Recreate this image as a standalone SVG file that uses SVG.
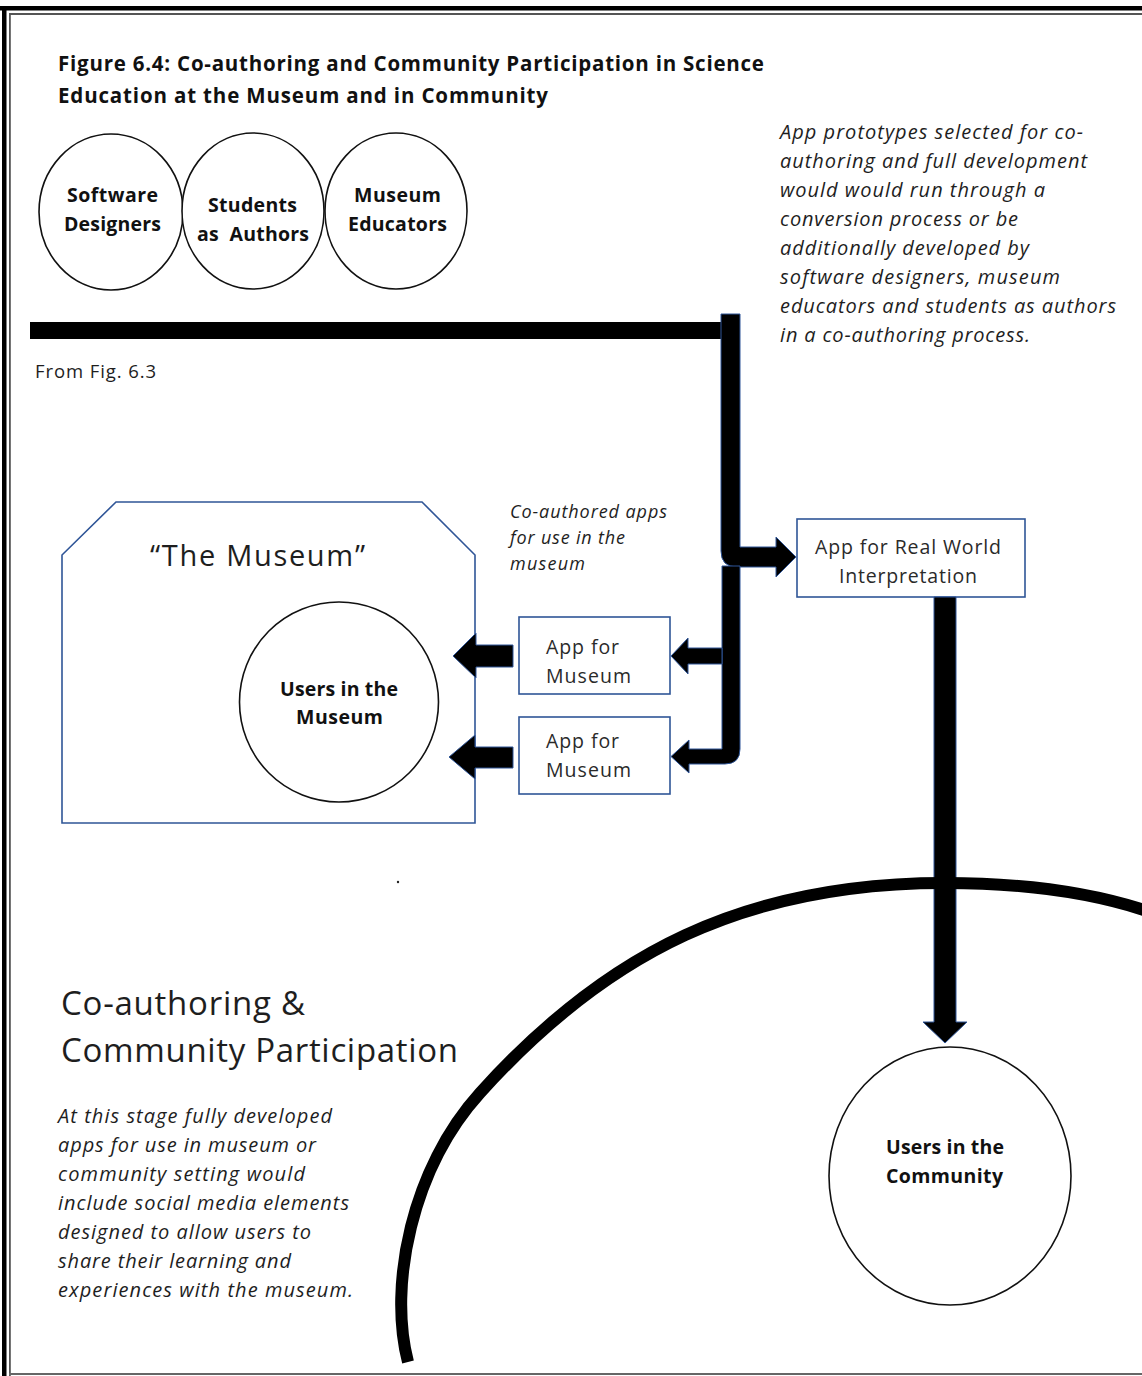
<svg xmlns="http://www.w3.org/2000/svg" width="1142" height="1376" viewBox="0 0 1142 1376">
<style>
text{font-family:"Open Sans","Noto Sans",sans-serif;fill:#1e1e1e}
.ttl{font-size:20.5px;font-weight:bold;fill:#111}
.cl{font-size:19.5px;font-weight:bold;fill:#111}
.it{font-size:20px;font-style:italic}
.app{font-size:19.5px;fill:#2a2a2a}
.ell{fill:#fff;stroke:#111;stroke-width:1.6}
.box{fill:#fff;stroke:#2F5597;stroke-width:1.6}
.arr{fill:#000;stroke:#2F5597;stroke-width:1}
</style>
<rect x="0" y="0" width="1142" height="1376" fill="#fff"/>
<g id="frame">
<rect x="0" y="6" width="1142" height="4.5" fill="#000"/>
<rect x="9" y="13" width="1133" height="2" fill="#555"/>
<rect x="2" y="6" width="4.5" height="1370" fill="#000"/>
<rect x="9" y="13" width="1.8" height="1363" fill="#555"/>
<rect x="9" y="1373" width="1133" height="2" fill="#666"/>
</g>
<g id="title">
<text class="ttl" x="58" y="71" textLength="706">Figure 6.4: Co-authoring and Community Participation in Science</text>
<text class="ttl" x="58" y="103" textLength="490">Education at the Museum and in Community</text>
</g>
<g id="software-designers">
<ellipse class="ell" cx="111" cy="212" rx="72" ry="78"/>
<text class="cl" x="67" y="202" textLength="91">Software</text>
<text class="cl" x="64" y="231" textLength="97">Designers</text>
</g>
<g id="students-authors">
<ellipse class="ell" cx="253" cy="211" rx="71" ry="78"/>
<text class="cl" x="208" y="212" textLength="89">Students</text>
<text class="cl" x="197" y="241" textLength="112">as&#160; Authors</text>
</g>
<g id="museum-educators">
<ellipse class="ell" cx="396" cy="211" rx="71" ry="78"/>
<text class="cl" x="354" y="202" textLength="87">Museum</text>
<text class="cl" x="348" y="231" textLength="99">Educators</text>
</g>
<g id="note-prototypes">
<text class="it" x="780" y="139" textLength="303">App prototypes selected for co-</text>
<text class="it" x="780" y="168" textLength="307">authoring and full development</text>
<text class="it" x="780" y="197" textLength="265">would would run through a</text>
<text class="it" x="780" y="226" textLength="238">conversion process or be</text>
<text class="it" x="780" y="255" textLength="249">additionally developed by</text>
<text class="it" x="780" y="284" textLength="280">software designers, museum</text>
<text class="it" x="780" y="313" textLength="336">educators and students as authors</text>
<text class="it" x="780" y="342" textLength="250">in a co-authoring process.</text>
</g>
<g id="from-fig">
<text x="35" y="378" font-size="18.5" textLength="121">From Fig. 6.3</text>
</g>
<g id="note-coauthored">
<text x="510" y="518" font-size="18" font-style="italic" textLength="157">Co-authored apps</text>
<text x="510" y="544" font-size="18" font-style="italic" textLength="115">for use in the</text>
<text x="510" y="570" font-size="18" font-style="italic" textLength="75">museum</text>
</g>
<g id="the-museum">
<polygon class="box" points="116,502 422,502 475,555 475,823 62,823 62,555"/>
<text x="150" y="566" font-size="29" textLength="215">“The Museum”</text>
</g>
<g id="users-museum">
<ellipse class="ell" cx="339" cy="702" rx="99.5" ry="100"/>
<text class="cl" x="280" y="696" textLength="118">Users in the</text>
<text class="cl" x="296" y="724" textLength="87">Museum</text>
</g>
<g id="app-museum-1">
<rect class="box" x="519" y="617" width="151" height="77"/>
<text class="app" x="546" y="654" textLength="73">App for</text>
<text class="app" x="546" y="683" textLength="85">Museum</text>
</g>
<g id="app-museum-2">
<rect class="box" x="519" y="717" width="151" height="77"/>
<text class="app" x="546" y="748" textLength="73">App for</text>
<text class="app" x="546" y="777" textLength="85">Museum</text>
</g>
<g id="app-real-world">
<rect class="box" x="797" y="519" width="228" height="78"/>
<text class="app" x="815" y="554" textLength="186">App for Real World</text>
<text class="app" x="839" y="583" textLength="138">Interpretation</text>
</g>
<g id="connectors">
<rect x="30" y="322" width="692" height="17" fill="#000"/>
<path class="arr" d="M721,314 H740 V547 H776 V537 L796,557 L776,577 V567 H737 Q721,567 721,551 Z"/>
<path class="arr" d="M722,566 H740 V749 Q740,764 725,764 H689 V773 L671,756.5 L689,740 V749 H722 Z"/>
<path class="arr" d="M722,648 H688 V638 L671,656 L688,674 V664 H722 Z"/>
<path class="arr" d="M513,645 H476 V633 L453,656 L476,678 V667 H513 Z"/>
<path class="arr" d="M513,747 H475 V735 L449,757 L475,779 V768 H513 Z"/>
<path class="arr" d="M934,597 H956 V1022 H967 L945,1043 L923,1022 H934 Z"/>
</g>
<g id="community-boundary">
<path d="M408,1362 C388,1285 412,1168 480,1093 C607,952 745,883 945,883 C1030,883 1100,895 1150,912" fill="none" stroke="#000" stroke-width="12"/>
</g>
<circle cx="398" cy="882" r="1.2" fill="#222"/>
<g id="heading-community">
<text x="61" y="1015" font-size="33" textLength="244">Co-authoring &amp;</text>
<text x="61" y="1062" font-size="33" textLength="397">Community Participation</text>
</g>
<g id="note-stage">
<text class="it" x="58" y="1123" textLength="274">At this stage fully developed</text>
<text class="it" x="58" y="1152" textLength="258">apps for use in museum or</text>
<text class="it" x="58" y="1181" textLength="247">community setting would</text>
<text class="it" x="58" y="1210" textLength="291">include social media elements</text>
<text class="it" x="58" y="1239" textLength="253">designed to allow users to</text>
<text class="it" x="58" y="1268" textLength="233">share their learning and</text>
<text class="it" x="58" y="1297" textLength="295">experiences with the museum.</text>
</g>
<g id="users-community">
<ellipse class="ell" cx="950" cy="1176" rx="121" ry="129"/>
<text class="cl" x="886" y="1154" textLength="118">Users in the</text>
<text class="cl" x="886" y="1183" textLength="117">Community</text>
</g>
</svg>
